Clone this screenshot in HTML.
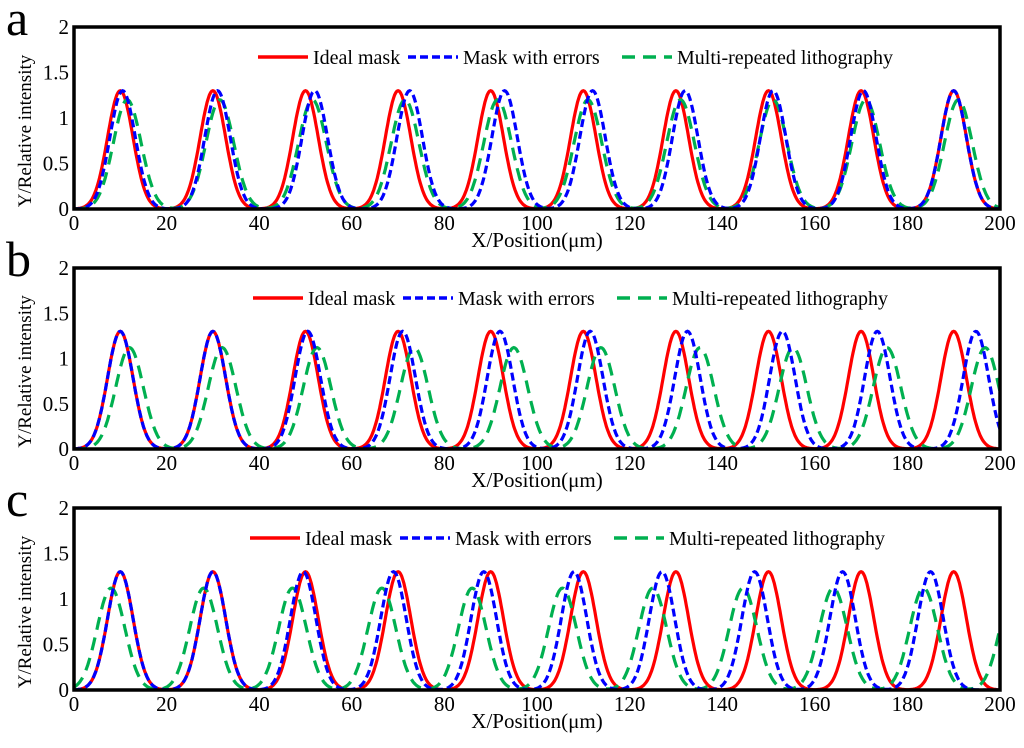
<!DOCTYPE html>
<html><head><meta charset="utf-8"><style>
body{margin:0;background:#fff}
svg{display:block;font-family:"Liberation Serif",serif}
</style></head><body>
<svg id="chart" width="1024" height="748" viewBox="0 0 1024 748" xmlns="http://www.w3.org/2000/svg"></svg>
<script>
const panelLetters = ["a","b","c"];
const xTicks = [0,20,40,60,80,100,120,140,160,180,200];
const yTicks = [0,0.5,1,1.5,2];
const yTickLabels = ["0","0.5","1","1.5","2"];
const legendLabels = ["Ideal mask","Mask with errors","Multi-repeated lithography"];
const idealPeaks = [10,30,50,70,90,110,130,150,170,190];
const errA = [10.5,31,52,72.5,93,112,132,151,170.5,190];
const multiA = [11.5,31.5,51.5,71.5,91.5,111,131,151,171,191];
const errB = [10,30,50.5,71,92,111.5,132.5,153,173.5,194.8];
const multiB = [12,32,52.5,73.5,95,113.8,135.2,155.3,175.6,196.8];
const errC = [10,30,49.5,69,88.5,108,127,147,166,185];
const multiC = [8,28,47.2,66.5,86,105.5,125,144.5,164,183.5,203];
const idealHeight = 1.3, errHeight = 1.3;
const multiHeightA = 1.2, multiHeightB = 1.12, multiHeightC = 1.12;

const panels = [
 {top:27,bottom:209,err:errA,multi:multiA,mh:multiHeightA,legX:258,legY:57},
 {top:268,bottom:449,err:errB,multi:multiB,mh:multiHeightB,legX:253,legY:298},
 {top:508,bottom:690,err:errC,multi:multiC,mh:multiHeightC,legX:250,legY:538}
];
const L=74,R=1000;
const svg=document.getElementById('chart');
const NS="http://www.w3.org/2000/svg";
function mk(tag,attrs,parent){const e=document.createElementNS(NS,tag);for(const k in attrs)e.setAttribute(k,attrs[k]);(parent||svg).appendChild(e);return e;}
function sx(v){return L+(v)/200*(R-L);}
function curve(peaks,h,sig,x){let s=0;for(const p of peaks){s+=h*Math.exp(-((x-p)*(x-p))/(2*sig*sig));}return s;}

panels.forEach((P,i)=>{
  const sy=v=>P.bottom-v/2*(P.bottom-P.top);
  const g=mk('g',{});
  
  
  const lt=mk('text',{x:6,y:P.top+8,'font-size':50},g);lt.textContent=panelLetters[i];
  
  const series=[
    {peaks:idealPeaks,h:idealHeight,sig:2.75,color:'#ff0000',dash:'',name:'ideal-mask-line'},
    {peaks:P.err,h:errHeight,sig:2.75,color:'#0000ff',dash:'8,4',name:'mask-errors-line'},
    {peaks:P.multi,h:P.mh,sig:3.0,color:'#00b050',dash:'13,8',name:'multi-litho-line'}
  ];
  const cp=mk('clipPath',{id:'cp'+i},g);mk('rect',{x:L,y:P.top,width:R-L,height:P.bottom-P.top},cp);
  [0,2,1].forEach(k=>{
    const s=series[k];let d='';
    for(let x=0;x<=200;x+=0.25){const y=curve(s.peaks,s.h,s.sig,x);d+=(x?'L':'M')+sx(x).toFixed(1)+','+sy(y).toFixed(1);}
    const p=mk('path',{d:d,fill:'none',stroke:s.color,'stroke-width':3.2,'stroke-dasharray':s.dash,'clip-path':'url(#cp'+i+')'},g);
    
  });
  const fr=mk('rect',{x:L,y:P.top,width:R-L,height:P.bottom-P.top,fill:'none',stroke:'#000','stroke-width':3.5},g);
  
  yTicks.forEach((v,j)=>{const t=mk('text',{x:L-5,y:sy(v)+7,'font-size':21,'text-anchor':'end'},g);t.textContent=yTickLabels[j];
    });
  xTicks.forEach(v=>{const t=mk('text',{x:sx(v),y:P.bottom+21,'font-size':21,'text-anchor':'middle'},g);t.textContent=v;
    });
  const xt=mk('text',{x:537,y:P.bottom+38,'font-size':21,'text-anchor':'middle'},g);xt.textContent='X/Position(μm)';
  
  const cy=(P.top+P.bottom)/2+13;
  const yt=mk('text',{x:0,y:0,'font-size':19,'text-anchor':'middle',transform:`translate(31,${cy}) rotate(-90)`},g);yt.textContent='Y/Relative intensity';
  
  const offs=[0,150,364];
  series.forEach((s,k)=>{
    const x0=P.legX+offs[k];
    const lg=mk('g',{},g);
    mk('line',{x1:x0,y1:P.legY,x2:x0+50,y2:P.legY,stroke:s.color,'stroke-width':3.5,'stroke-dasharray':s.dash},lg);
    const t=mk('text',{x:x0+55,y:P.legY+7,'font-size':20},lg);t.textContent=legendLabels[k];
  });
});
</script>
</body></html>
